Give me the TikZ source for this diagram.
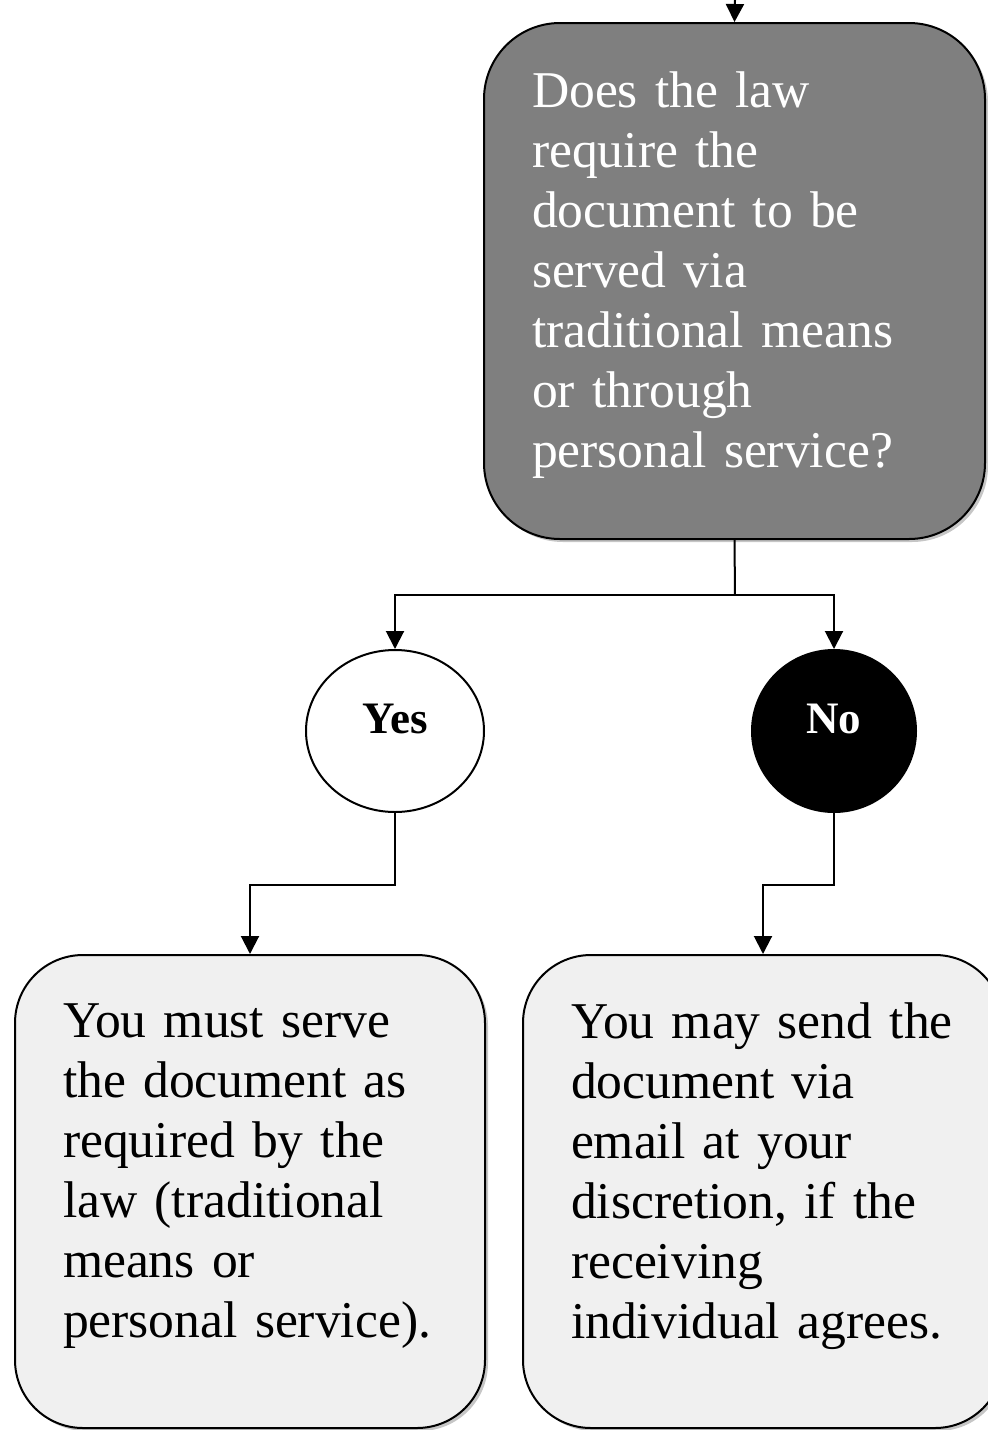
\documentclass[tikz,border=0pt]{standalone}
\usepackage{fontspec}
\setmainfont{Liberation Serif}
\usepackage{tikz}
\usetikzlibrary{shapes.geometric, arrows.meta, shadows, positioning}
\definecolor{qgray}{HTML}{7F7F7F}
\definecolor{agray}{HTML}{F0F0F0}
\newcommand{\lowpad}[1]{\rule[-#1]{0pt}{0pt}}

\begin{document}
\begin{tikzpicture}[x=0.5pt, y=-0.5pt,
    line width=1pt,
    arr/.style={-{Triangle[width=9pt,length=9pt]}},
    shade/.style={drop shadow={shadow xshift=1.5pt, shadow yshift=-1.5pt, opacity=.45}},
    question/.style={draw, fill=qgray, text=white, rounded corners=38pt, shade,
      align=left, text width=202.5pt, inner xsep=24pt, minimum height=258pt,
      font=\fontsize{25.8}{30}\selectfont},
    answer/.style={draw, fill=agray, rounded corners=34pt, shade,
      align=left, text width=187pt, inner xsep=24pt, minimum height=236.5pt,
      font=\fontsize{25.8}{30}\selectfont},
    choice/.style={draw, ellipse, minimum height=81pt, inner sep=0pt,
      text height=16pt, text depth=14pt, font=\fontsize{22.5}{26}\selectfont\bfseries}]
  \useasboundingbox (0,0) rectangle (988,1430);
  \coordinate (in) at (735,0);
  \node [question] (q) at (734.5,281) {Does the law\\ require the\\ document to be\\ served via\\ traditional means\\ or through\\ personal service?\lowpad{11pt}};
  \coordinate (split) at (735,595);
  \node [choice, fill=white, minimum width=89pt] (yes) at (395,731) {Yes};
  \node [choice, fill=black, text=white, minimum width=82pt] (no) at (834,731) {No};
  \node [answer] (must) at (250,1191.5) {You must serve\\ the document as\\ required by the\\ law (traditional\\ means or\\ personal service).\lowpad{21pt}};
  \node [answer, text width=192pt] (may) at (763,1191.5) {You may send the\\ document via\\ email at your\\ discretion, if the\\ receiving\\ individual agrees.\lowpad{21pt}};
  % connectors
  \draw [arr] (in) -- (q.north);
  \draw (q.south) -- (split);
  \draw [arr] (split) -| (yes.north);
  \draw [arr] (split) -| (no.north);
  \draw [arr] (yes.south) -- ++(0,72) -| (must.north);
  \draw [arr] (no.south) -- ++(0,72) -| (may.north);
\end{tikzpicture}
\end{document}
